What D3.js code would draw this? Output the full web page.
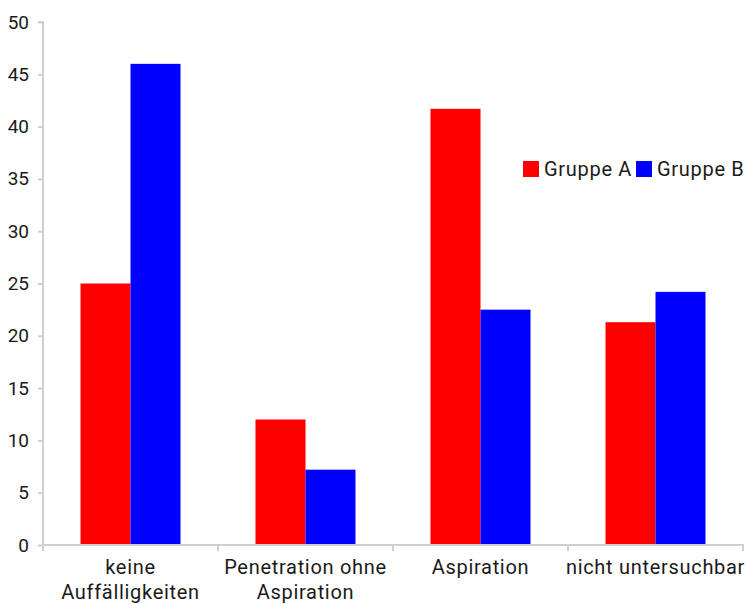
<!DOCTYPE html>
<html>
<head>
<meta charset="utf-8">
<script src="https://cdn.jsdelivr.net/npm/d3@7"></script>
<style>
  html, body { margin: 0; padding: 0; background: #fff; }
  svg { display: block; font-family: Roboto, "Noto Sans", sans-serif; }
</style>
</head>
<body>
<svg id="chart" width="747" height="604"></svg>
<script>
// Befunde je Gruppe (Prozent)
const categories = [["keine", "Auffälligkeiten"], ["Penetration ohne", "Aspiration"], ["Aspiration"], ["nicht untersuchbar"]];
const groups = ["Gruppe A", "Gruppe B"];
const valuesA = [25, 12, 41.7, 21.3];
const valuesB = [46, 7.2, 22.5, 24.2];
const yTicks = [0, 5, 10, 15, 20, 25, 30, 35, 40, 45, 50];
const colors = ["#ff0000", "#0000ff"];

const svg = d3.select("#chart");
const plotLeft = 43, plotRight = 743, plotTop = 22, plotBottom = 545;

const x = d3.scaleBand().domain(d3.range(categories.length)).range([plotLeft, plotRight]).paddingInner(0).paddingOuter(0);
const inner = d3.scaleBand().domain(groups).range([0, 100]);
const groupOffset = (x.bandwidth() - 100) / 2;
const y = d3.scaleLinear().domain([0, 50]).range([plotBottom, plotTop]);

const axisColor = "#cfcfcf";
const textColor = "#1a1a1a";

// Balken
const series = [valuesA, valuesB];
series.forEach((vals, si) => {
  svg.append("g").selectAll("rect")
    .data(vals)
    .join("rect")
    .attr("x", (d, i) => x(i) + groupOffset + inner(groups[si]))
    .attr("width", inner.bandwidth())
    .attr("y", d => y(d))
    .attr("height", d => y(0) - y(d))
    .attr("fill", colors[si]);
});

// y-Achse
const yAxis = svg.append("g").attr("transform", `translate(${plotLeft},0)`)
  .call(d3.axisLeft(y).tickValues(yTicks).tickSize(5).tickPadding(9));
yAxis.select(".domain").attr("stroke", axisColor).attr("stroke-width", 2)
  .attr("d", `M-5,${plotTop}H0V${plotBottom}`);
yAxis.selectAll(".tick line").attr("stroke", axisColor).attr("stroke-width", 2);
yAxis.selectAll(".tick text").attr("fill", textColor).style("font-size", "19px")
  .attr("font-family", "Roboto, sans-serif");

// x-Achse mit Trennstrichen zwischen den Kategorien
const xg = svg.append("g");
xg.append("line").attr("x1", plotLeft).attr("x2", plotRight + 1).attr("y1", plotBottom).attr("y2", plotBottom)
  .attr("stroke", axisColor).attr("stroke-width", 2);
const dividers = d3.range(categories.length + 1).map(i => i < categories.length ? x(i) : x(i - 1) + x.bandwidth());
xg.selectAll("line.div").data(dividers).join("line").attr("class", "div")
  .attr("x1", d => d).attr("x2", d => d).attr("y1", plotBottom).attr("y2", plotBottom + 6)
  .attr("stroke", axisColor).attr("stroke-width", 2);

// Kategoriebeschriftungen
const labels = svg.append("g").selectAll("text")
  .data(categories)
  .join("text")
  .attr("x", (d, i) => x(i) + x.bandwidth() / 2)
  .attr("y", 574)
  .attr("text-anchor", "middle")
  .attr("fill", textColor)
  .style("font-size", "20px")
  .style("letter-spacing", "0.7px");
labels.selectAll("tspan")
  .data(d => d)
  .join("tspan")
  .attr("x", function() { return d3.select(this.parentNode).attr("x"); })
  .attr("dy", (d, i) => i === 0 ? 0 : 25)
  .text(d => d);

// Legende
const legendPos = [523, 636];
const legend = svg.append("g");
groups.forEach((g, i) => {
  legend.append("rect").attr("x", legendPos[i]).attr("y", 161).attr("width", 16).attr("height", 16)
    .attr("fill", colors[i]);
  legend.append("text").attr("x", legendPos[i] + 21).attr("y", 176)
    .attr("fill", textColor).style("font-size", "20px").style("letter-spacing", "0.7px").text(g);
});
</script>
</body>
</html>
